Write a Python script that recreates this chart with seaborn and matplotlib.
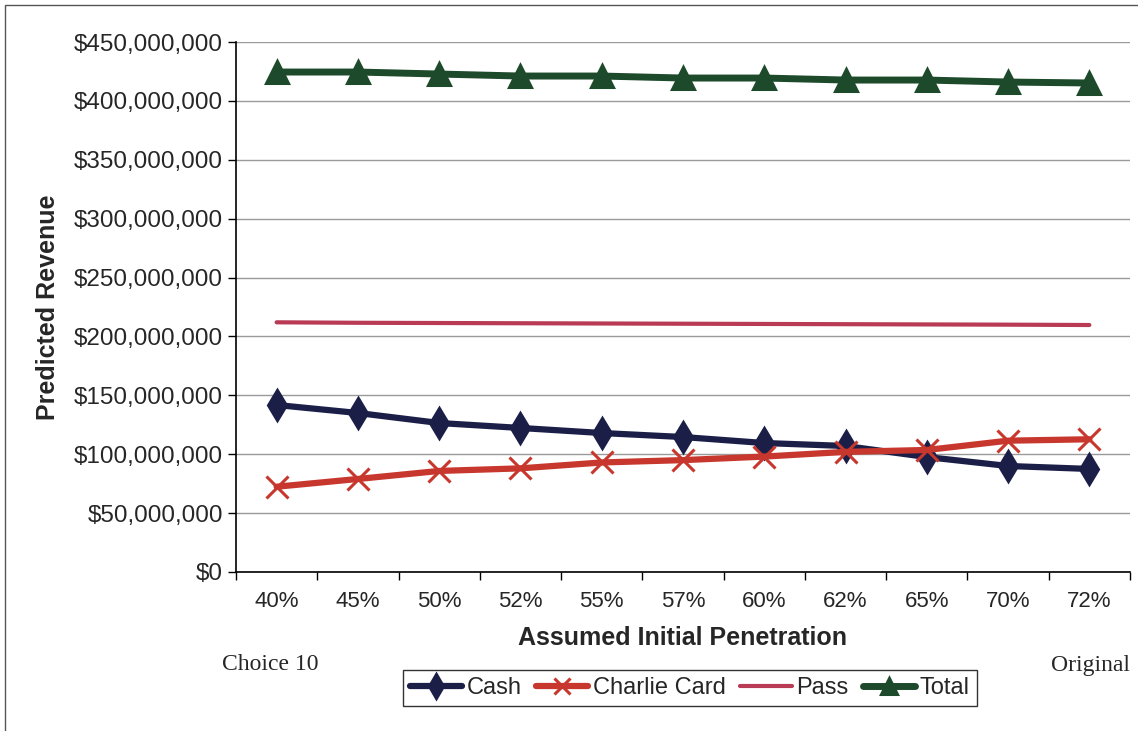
import numpy as np
import pandas as pd
import seaborn as sns
import matplotlib.pyplot as plt
from matplotlib.ticker import FuncFormatter, FixedLocator
from matplotlib.lines import Line2D

penetration = ["40%", "45%", "50%", "52%", "55%", "57%", "60%", "62%", "65%", "70%", "72%"]
cash = [141.8, 135.0, 126.5, 122.3, 118.0, 114.6, 109.5, 107.0, 97.6, 90.0, 87.5]
charlie = [72.4, 79.0, 85.8, 88.0, 93.0, 95.0, 98.0, 102.0, 103.6, 111.5, 112.7]
pass_rev = [212.0, 211.6, 211.4, 211.2, 211.0, 210.8, 210.6, 210.4, 210.2, 210.0, 209.7]
total = [424.5, 424.5, 422.8, 421.1, 421.1, 419.4, 419.4, 417.7, 417.7, 416.0, 415.2]

series = {"Cash": cash, "Charlie Card": charlie, "Pass": pass_rev, "Total": total}

colors = {"Cash": "#1b1f48", "Charlie Card": "#c8372d", "Pass": "#b83a55", "Total": "#1d4a2b"}
markers = {"Cash": "d", "Charlie Card": "x", "Pass": None, "Total": "^"}
msizes = {"Cash": 15, "Charlie Card": 16, "Pass": 0, "Total": 16}
lwidths = {"Cash": 4.5, "Charlie Card": 4.5, "Pass": 3, "Total": 5}

sns.set_style("white")
plt.rcParams["font.family"] = ["Liberation Sans", "DejaVu Sans"]

fig = plt.figure(figsize=(11.38, 7.31), dpi=100)
ax = fig.add_axes([236 / 1138, 1 - 572 / 731, (1130 - 236) / 1138, (572 - 42) / 731])

for name, vals in series.items():
    d = pd.DataFrame({"penetration": penetration, "revenue": np.array(vals) * 1e6})
    sns.lineplot(data=d, x="penetration", y="revenue", color=colors[name], sort=False,
                 marker=markers[name], markersize=msizes[name], markeredgewidth=2.2,
                 markeredgecolor=colors[name], linewidth=lwidths[name], ax=ax,
                 label=name, legend=False)

ax.set_xlim(-0.5, len(penetration) - 0.5)
ax.set_ylim(0, 450e6)
ax.set_yticks(np.arange(0, 450e6 + 1, 50e6))
ax.yaxis.set_major_formatter(FuncFormatter(lambda v, p: f"${v:,.0f}"))
ax.xaxis.set_minor_locator(FixedLocator(np.arange(-0.5, len(penetration), 1)))
ax.tick_params(axis="x", which="major", length=0, pad=14, labelsize=16)
ax.tick_params(axis="x", which="minor", length=6, width=1, color="black", direction="out", bottom=True)
ax.tick_params(axis="y", length=6, width=1, color="black", direction="out", labelsize=17.5, left=True)
ax.grid(axis="y", color="#9a9a9a", linewidth=1)
ax.set_axisbelow(True)
for s in ["top", "right"]:
    ax.spines[s].set_visible(False)
for s in ["left", "bottom"]:
    ax.spines[s].set_color("black")
    ax.spines[s].set_linewidth(1.2)

ax.set_xlabel("Assumed Initial Penetration", fontsize=18, fontweight="bold", labelpad=10)
ax.set_ylabel("Predicted Revenue", fontsize=18, fontweight="bold", labelpad=10)

handles = [Line2D([], [], color=colors[k], marker=markers[k], linewidth=lwidths[k],
                  markersize=12, markeredgewidth=2.2) for k in series]
fig.legend(handles, list(series.keys()), loc="center", bbox_to_anchor=(690 / 1138, 1 - 688 / 731),
           ncol=4, frameon=True, fancybox=False, edgecolor="black", fontsize=17,
           handlelength=2.2, handletextpad=0.2, columnspacing=0.6, borderpad=0.3)

fig.text(270 / 1138, 1 - 664 / 731, "Choice 10", ha="center", va="center", fontsize=17,
         family=["Liberation Serif", "DejaVu Serif"])
fig.text(1090 / 1138, 1 - 665 / 731, "Original", ha="center", va="center", fontsize=17,
         family=["Liberation Serif", "DejaVu Serif"])

fig.add_artist(plt.Rectangle((5 / 1138, -0.1), 1.2, 1 - 5 / 731 + 0.1, transform=fig.transFigure,
                             fill=False, edgecolor="#555555", linewidth=1))

fig.savefig("out.png", dpi=100)
